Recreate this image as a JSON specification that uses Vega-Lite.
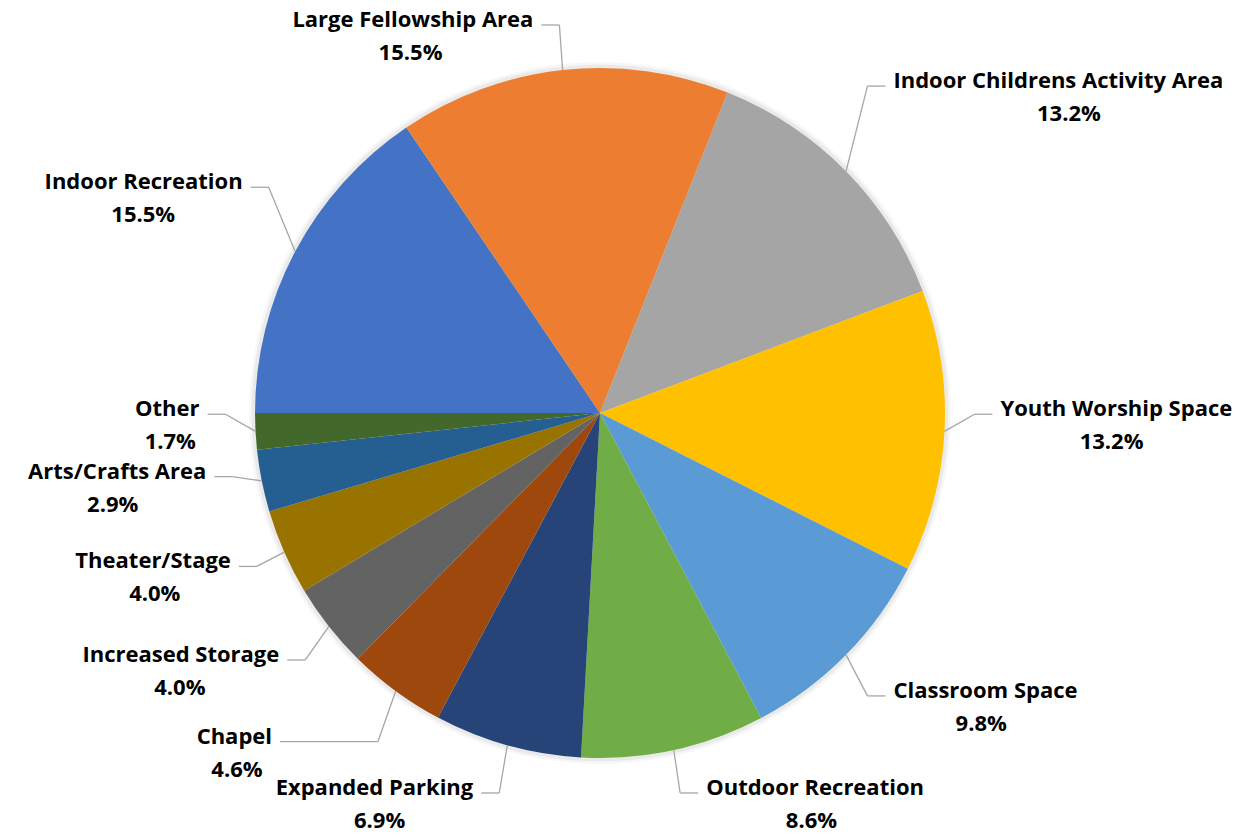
{
  "$schema": "https://vega.github.io/schema/vega-lite/v6.json",
  "width": 1200,
  "height": 826,
  "autosize": {"type": "none"},
  "padding": {"left": 0, "top": 0, "right": 56, "bottom": 11},
  "background": "white",
  "config": {"view": {"stroke": null}},
  "data": {
    "values": [
      {"order": 1, "category": "Indoor Recreation", "share": 15.5},
      {"order": 2, "category": "Large Fellowship Area", "share": 15.5},
      {"order": 3, "category": "Indoor Childrens Activity Area", "share": 13.2},
      {"order": 4, "category": "Youth Worship Space", "share": 13.2},
      {"order": 5, "category": "Classroom Space", "share": 9.8},
      {"order": 6, "category": "Outdoor Recreation", "share": 8.6},
      {"order": 7, "category": "Expanded Parking", "share": 6.9},
      {"order": 8, "category": "Chapel", "share": 4.6},
      {"order": 9, "category": "Increased Storage", "share": 4.0},
      {"order": 10, "category": "Theater/Stage", "share": 4.0},
      {"order": 11, "category": "Arts/Crafts Area", "share": 2.9},
      {"order": 12, "category": "Other", "share": 1.7}
    ]
  },
  "transform": [
    {"window": [{"op": "sum", "field": "share", "as": "cum"}], "sort": [{"field": "order"}], "frame": [null, 0]},
    {"joinaggregate": [{"op": "sum", "field": "share", "as": "total"}]},
    {"calculate": "1.5*PI + 2*PI*(datum.cum - datum.share/2)/datum.total", "as": "mid"},
    {"calculate": "sin(datum.mid)", "as": "s"},
    {"calculate": "cos(datum.mid)", "as": "c"},
    {"calculate": "datum.s >= 0 ? 1 : -1", "as": "side"},
    {"calculate": "345*datum.s", "as": "px"},
    {"calculate": "345*datum.c", "as": "py"},
    {"calculate": "375*datum.s", "as": "ex"},
    {"calculate": "clamp(435*datum.c + 22, -380, 388)", "as": "ey"},
    {"calculate": "datum.ex + datum.side*26", "as": "tx0"},
    {"calculate": "length(datum.category)*11.7", "as": "nameW"},
    {"window": [
      {"op": "lag", "field": "ey", "as": "prevEy"},
      {"op": "lag", "field": "tx0", "as": "prevTx"},
      {"op": "lag", "field": "side", "as": "prevSide"},
      {"op": "lag", "field": "nameW", "as": "prevW"}
    ], "sort": [{"field": "order"}]},
    {"calculate": "isValid(datum.prevEy) && datum.prevSide == datum.side && abs(datum.ey - datum.prevEy) < 60", "as": "clash"},
    {"calculate": "datum.clash ? (datum.side < 0 ? min(datum.tx0, datum.prevTx - datum.prevW - 14) : max(datum.tx0, datum.prevTx + datum.prevW + 14)) : datum.tx0", "as": "tx"},
    {"calculate": "datum.tx - datum.side*8", "as": "hx"},
    {"calculate": "datum.tx + datum.side*datum.nameW/2", "as": "cx"},
    {"calculate": "format(datum.share, '.1f') + '%'", "as": "pctLabel"}
  ],
  "layer": [
    {
      "transform": [{"filter": "datum.order == 1"}],
      "mark": {"type": "arc", "outerRadius": 351, "theta": 0, "theta2": 6.2832, "fill": "#000000", "fillOpacity": 0.03},
      "encoding": {}
    },
    {
      "transform": [{"filter": "datum.order == 1"}],
      "mark": {"type": "arc", "outerRadius": 348.5, "theta": 0, "theta2": 6.2832, "fill": "#000000", "fillOpacity": 0.05},
      "encoding": {}
    },
    {
      "mark": {"type": "arc", "outerRadius": 345},
      "encoding": {
        "theta": {"field": "share", "type": "quantitative", "stack": true, "scale": {"range": [4.71238898, 10.99557429]}},
        "order": {"field": "order", "type": "quantitative"},
        "color": {
          "field": "category",
          "type": "nominal",
          "scale": {
            "domain": ["Indoor Recreation", "Large Fellowship Area", "Indoor Childrens Activity Area", "Youth Worship Space", "Classroom Space", "Outdoor Recreation", "Expanded Parking", "Chapel", "Increased Storage", "Theater/Stage", "Arts/Crafts Area", "Other"],
            "range": ["#4472C4", "#ED7D31", "#A5A5A5", "#FFC000", "#5B9BD5", "#70AD47", "#264478", "#9E480E", "#636363", "#997300", "#255E91", "#43682B"]
          },
          "legend": null
        }
      }
    },
    {
      "mark": {"type": "rule", "color": "#A6A6A6", "strokeWidth": 1.3},
      "encoding": {
        "x": {"field": "px", "type": "quantitative", "scale": {"domain": [-600, 600], "nice": false, "zero": false}, "axis": null},
        "y": {"field": "py", "type": "quantitative", "scale": {"domain": [-413, 413], "nice": false, "zero": false}, "axis": null},
        "x2": {"field": "ex"},
        "y2": {"field": "ey"}
      }
    },
    {
      "mark": {"type": "rule", "color": "#A6A6A6", "strokeWidth": 1.3},
      "encoding": {
        "x": {"field": "ex", "type": "quantitative", "scale": {"domain": [-600, 600], "nice": false, "zero": false}, "axis": null},
        "y": {"field": "ey", "type": "quantitative", "scale": {"domain": [-413, 413], "nice": false, "zero": false}, "axis": null},
        "x2": {"field": "hx"},
        "y2": {"field": "ey"}
      }
    },
    {
      "mark": {"type": "text", "font": "Open Sans", "fontWeight": "bold", "fontSize": 22, "color": "#000000", "baseline": "middle", "dy": -5, "align": {"expr": "datum.side > 0 ? 'left' : 'right'"}},
      "encoding": {
        "x": {"field": "tx", "type": "quantitative", "scale": {"domain": [-600, 600], "nice": false, "zero": false}, "axis": null},
        "y": {"field": "ey", "type": "quantitative", "scale": {"domain": [-413, 413], "nice": false, "zero": false}, "axis": null},
        "text": {"field": "category"}
      }
    },
    {
      "mark": {"type": "text", "font": "Open Sans", "fontWeight": "bold", "fontSize": 22, "color": "#000000", "baseline": "middle", "dy": 28, "align": "center"},
      "encoding": {
        "x": {"field": "cx", "type": "quantitative", "scale": {"domain": [-600, 600], "nice": false, "zero": false}, "axis": null},
        "y": {"field": "ey", "type": "quantitative", "scale": {"domain": [-413, 413], "nice": false, "zero": false}, "axis": null},
        "text": {"field": "pctLabel"}
      }
    }
  ]
}
